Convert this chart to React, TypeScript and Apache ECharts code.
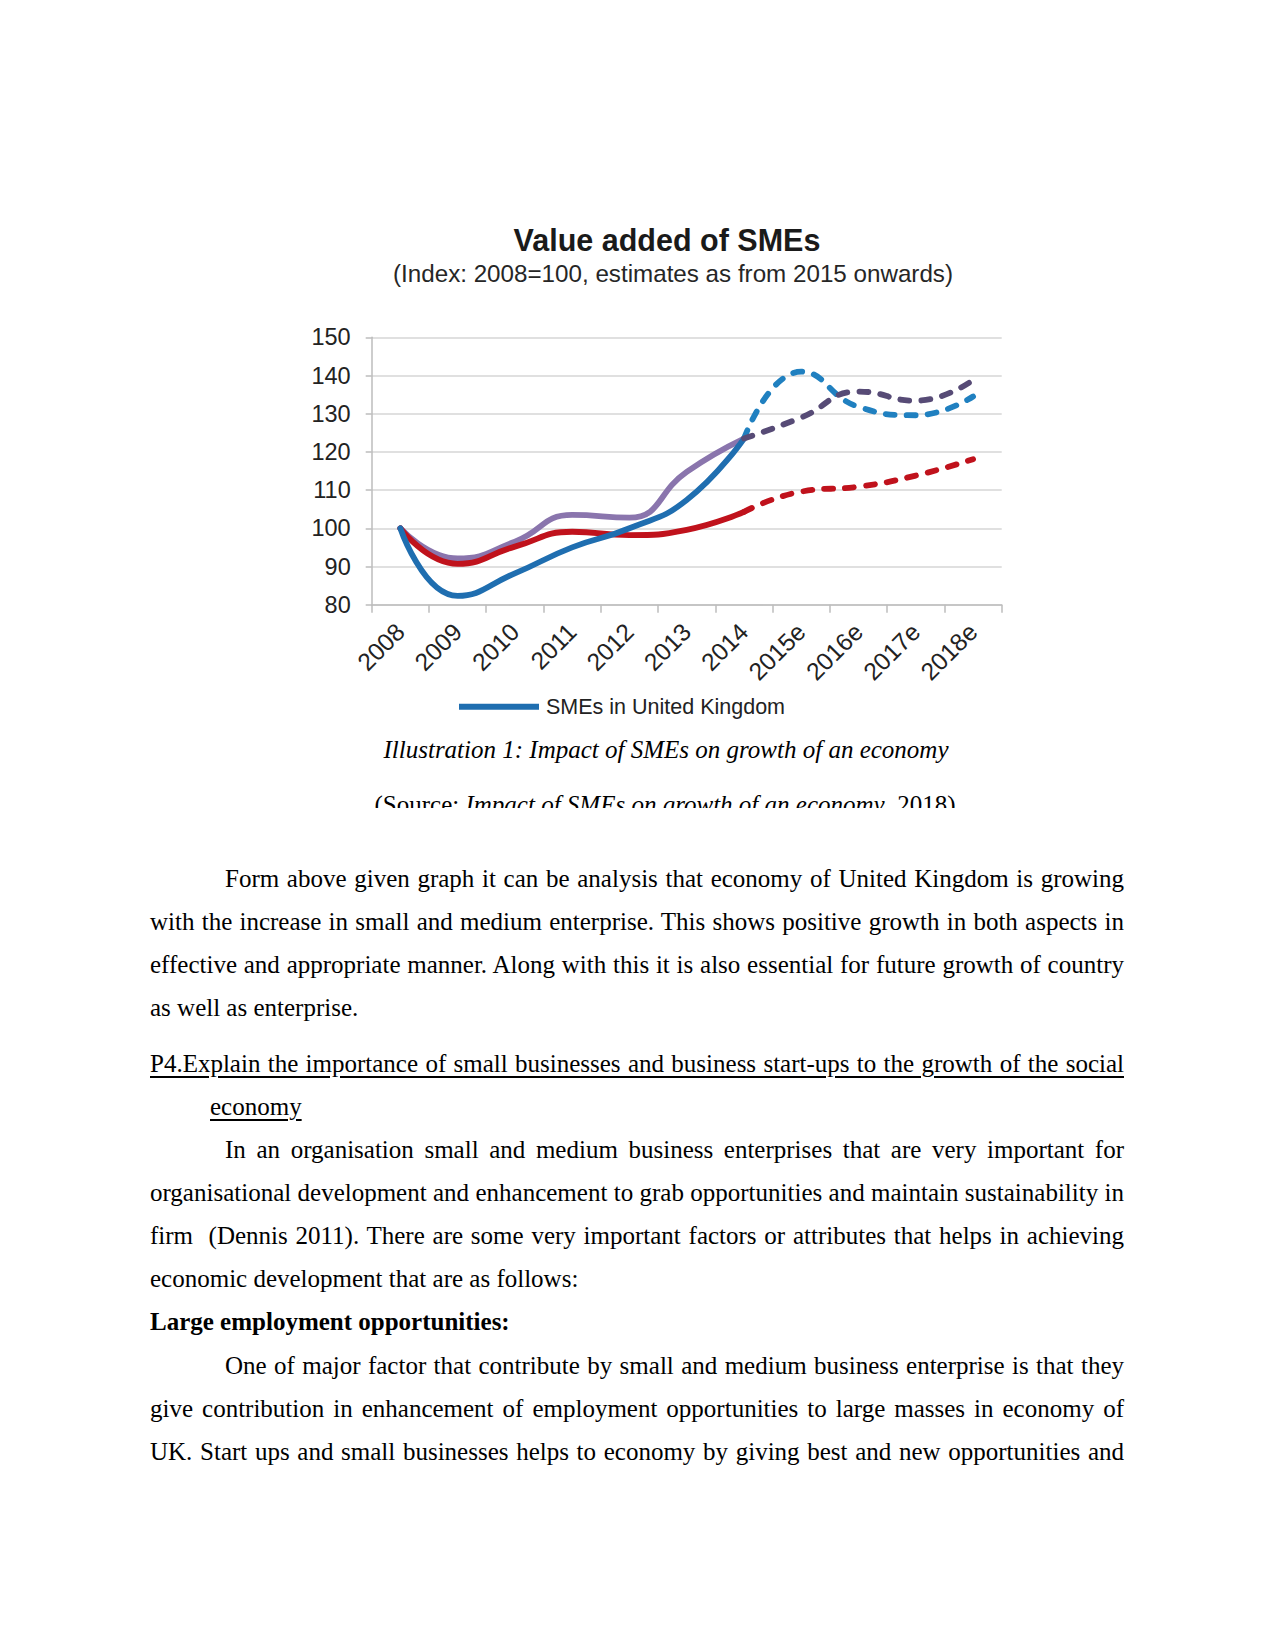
import React, { useEffect, useRef } from "react";
import * as echarts from "echarts";

const categories = ["2008", "2009", "2010", "2011", "2012", "2013", "2014", "2015e", "2016e", "2017e", "2018e"];
const ukActual = [100, 82.3, 88.2, 95, 100, 107.4, 123.5, null, null, null, null];
const ukEstimate = [null, null, null, null, null, null, 123.5, 141, 131.8, 129.6, 134.5];
const euActual = [100, 92.1, 96.5, 103.5, 102.8, 114.8, 123.5, null, null, null, null];
const euEstimate = [null, null, null, null, null, null, 123.5, 129, 135.8, 133.4, 138.8];
const econActual = [100, 90.7, 95.2, 99.1, 98.2, 99.6, 104.3, null, null, null, null];
const econEstimate = [null, null, null, null, null, null, 104.3, 109.6, 110.9, 113.8, 118.1];
const yMin = 80;
const yMax = 150;
const yStep = 10;

const chartTitle = "Value added of SMEs";
const chartSubtitle = "(Index: 2008=100, estimates as from 2015 onwards)";
const legendName = "SMEs in United Kingdom";

const SANS = '"Liberation Sans", Arial, sans-serif';
const SERIF = '"Liberation Serif", "Times New Roman", serif';

type Line = { text: React.ReactNode; y: number; indent: number; justify: boolean; bold?: boolean; underline?: boolean };

const bodyLines: Line[] = [
  { text: "Form above given graph it can be analysis that economy of United Kingdom is growing", y: 881, indent: 75, justify: true },
  { text: "with the increase in small and medium enterprise. This shows positive growth in both aspects in", y: 924.1, indent: 0, justify: true },
  { text: "effective and appropriate manner. Along with this it is also essential for future growth of country", y: 967.2, indent: 0, justify: true },
  { text: "as well as enterprise.", y: 1010.3, indent: 0, justify: false },
  { text: "P4.Explain the importance of small businesses and business start-ups to the growth of the social", y: 1066, indent: 0, justify: true, underline: true },
  { text: "economy", y: 1109.1, indent: 60, justify: false, underline: true },
  { text: "In an organisation small and medium business enterprises that are very important for", y: 1152.2, indent: 75, justify: true },
  { text: "organisational development and enhancement to grab opportunities and maintain sustainability in", y: 1195.3, indent: 0, justify: true },
  { text: "firm\u00a0 (Dennis 2011). There are some very important factors or attributes that helps in achieving", y: 1238.4, indent: 0, justify: true },
  { text: "economic development that are as follows:", y: 1281.5, indent: 0, justify: false },
  { text: "Large employment opportunities:", y: 1324.6, indent: 0, justify: false, bold: true },
  { text: "One of major factor that contribute by small and medium business enterprise is that they", y: 1367.7, indent: 75, justify: true },
  { text: "give contribution in enhancement of employment opportunities to large masses in economy of", y: 1410.8, indent: 0, justify: true },
  { text: "UK. Start ups and small businesses helps to economy by giving best and new opportunities and", y: 1453.9, indent: 0, justify: true },
];

function Chart() {
  const ref = useRef<HTMLDivElement>(null);
  useEffect(() => {
    if (!ref.current) return;
    const chart = echarts.init(ref.current, undefined, { renderer: "svg" });
    const axisColor = "#bdbdbd";
    const labelColor = "#222222";
    const dash = [9, 12];
    const mk = (name: string, data: (number | null)[], color: string, dashed: boolean, z: number) => ({
      name,
      type: "line",
      data,
      smooth: 0.5,
      symbol: "none",
      color,
      z,
      connectNulls: false,
      lineStyle: { color, width: 5.8, type: dashed ? dash : "solid", cap: "round", join: "round" },
    });
    chart.setOption({
      animation: false,
      textStyle: { fontFamily: SANS },
      graphic: [
        {
          type: "text",
          x: 667,
          y: 240,
          style: { text: chartTitle, font: `bold 30.5px ${SANS}`, fill: "#1a1a1a", textAlign: "center", textVerticalAlign: "middle" },
        },
        {
          type: "text",
          x: 673,
          y: 273.5,
          style: { text: chartSubtitle, font: `24.2px ${SANS}`, fill: "#262626", textAlign: "center", textVerticalAlign: "middle" },
        },
      ],
      legend: {
        left: 459,
        top: 695.7,
        padding: 0,
        itemWidth: 80,
        itemHeight: 6,
        selectedMode: false,
        data: [{ name: legendName, icon: "rect" }],
        textStyle: { fontSize: 21.5, lineHeight: 22, color: labelColor, fontFamily: SANS, padding: [0, 0, 0, 2] },
      },
      grid: { left: 371.7, top: 337.3, width: 630, height: 267.4, containLabel: false },
      xAxis: {
        type: "category",
        data: categories,
        boundaryGap: true,
        axisLine: { show: true, lineStyle: { color: axisColor, width: 1.5 } },
        axisTick: { show: true, length: 8, interval: 0, alignWithLabel: false, lineStyle: { color: axisColor, width: 1.5 } },
        axisLabel: { interval: 0, rotate: 45, fontSize: 24.5, color: labelColor, margin: 23, fontFamily: SANS },
        splitLine: { show: false },
      },
      yAxis: {
        type: "value",
        min: yMin,
        max: yMax,
        interval: yStep,
        axisLine: { show: true, lineStyle: { color: axisColor, width: 1.5 } },
        axisTick: { show: true, length: 6, lineStyle: { color: axisColor, width: 1.5 } },
        axisLabel: { fontSize: 23.5, color: labelColor, margin: 21, fontFamily: SANS },
        splitLine: { show: true, lineStyle: { color: "#d6d6d6", width: 1.5 } },
      },
      series: [
        mk("SMEs in the EU", euActual, "#8a75ad", false, 2),
        mk("UK economy", econActual, "#c0121c", false, 3),
        mk(legendName, ukActual, "#1f6eb0", false, 4),
        mk("UK SMEs estimate", ukEstimate, "#2080c0", true, 5),
        mk("EU SMEs estimate", euEstimate, "#574b76", true, 6),
        mk("UK economy estimate", econEstimate, "#c0121c", true, 7),
      ],
    });
    return () => chart.dispose();
  }, []);
  return (
    <div style={{ position: "absolute", left: 0, top: 0, width: 1275, height: 722, overflow: "hidden" }}>
      <div ref={ref} style={{ width: 1275, height: 722 }} />
    </div>
  );
}

export default function App() {
  return (
    <div style={{ position: "absolute", left: 0, top: 0, width: 1275, height: 1650, background: "#fff", overflow: "hidden" }}>
      <Chart />
      <div
        style={{
          position: "absolute",
          left: 366,
          width: 600,
          top: 752 - 24.2,
          height: 43.1,
          lineHeight: "43.1px",
          fontFamily: SERIF,
          fontSize: 25,
          fontStyle: "italic",
          textAlign: "center",
          whiteSpace: "nowrap",
          color: "#000",
        }}
      >
        Illustration 1: Impact of SMEs on growth of an economy
      </div>
      <div style={{ position: "absolute", left: 265, width: 800, top: 780, height: 28.3, overflow: "hidden" }}>
        <div
          style={{
            position: "absolute",
            left: 0,
            width: 800,
            top: 807.5 - 24.2 - 780,
            height: 43.1,
            lineHeight: "43.1px",
            fontFamily: SERIF,
            fontSize: 25,
            textAlign: "center",
            whiteSpace: "nowrap",
            color: "#000",
          }}
        >
          (Source: <i>Impact of SMEs on growth of an economy</i>, 2018)
        </div>
      </div>
      {bodyLines.map((ln, i) => (
        <div
          key={i}
          style={{
            position: "absolute",
            left: 150 + ln.indent,
            width: 974 - ln.indent,
            top: ln.y - 24.2,
            height: 43.1,
            lineHeight: "43.1px",
            fontFamily: SERIF,
            fontSize: 25,
            fontWeight: ln.bold ? "bold" : "normal",
            textAlign: ln.justify ? "justify" : "left",
            textAlignLast: ln.justify ? "justify" : "left",
            whiteSpace: "nowrap",
            color: "#000",
          }}
        >
          <span style={ln.underline ? { textDecoration: "underline", textDecorationThickness: "2px", textUnderlineOffset: "4px" } : undefined}>
            {ln.text}
          </span>
        </div>
      ))}
    </div>
  );
}
